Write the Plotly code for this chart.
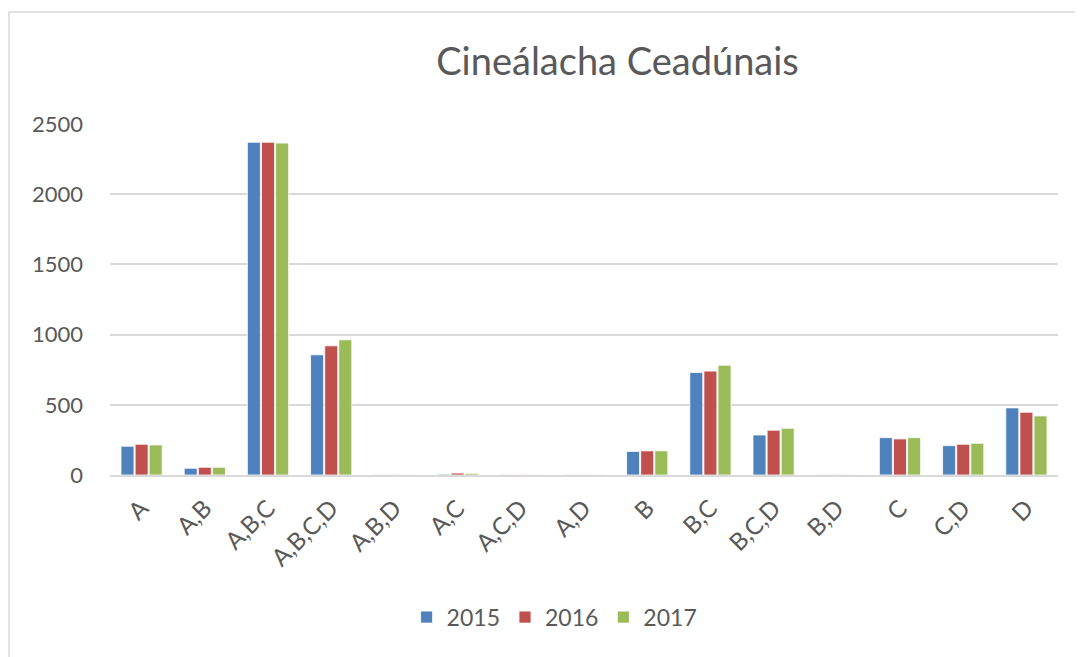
import plotly.graph_objects as go

categories = ["A", "A,B", "A,B,C", "A,B,C,D", "A,B,D", "A,C", "A,C,D", "A,D",
              "B", "B,C", "B,C,D", "B,D", "C", "C,D", "D"]
v2015 = [205, 48, 2370, 856, 2, 6, 2, 2, 168, 730, 285, 2, 266, 209, 478]
v2016 = [219, 55, 2370, 920, 2, 14, 2, 2, 172, 740, 319, 2, 257, 219, 447]
v2017 = [214, 55, 2364, 963, 2, 12, 2, 2, 172, 782, 333, 2, 266, 226, 421]

font = "Lato, Liberation Sans, sans-serif"
grey = "#595959"

fig = go.Figure()
for name, vals, col in [("2015", v2015, "#4F81BD"),
                        ("2016", v2016, "#C0504D"),
                        ("2017", v2017, "#9BBB59")]:
    fig.add_trace(go.Bar(x=categories, y=vals, name=name,
                         marker=dict(color=col, line=dict(color="white", width=0.8))))

# page body has an 8px margin, so the figure is sized a bit smaller
fig.update_layout(
    width=1075, height=649,
    margin=dict(l=102, r=25, t=116, b=182),
    paper_bgcolor="white", plot_bgcolor="white",
    barmode="group", bargap=0.33, bargroupgap=0.08,
    title=dict(text="Cineálacha Ceadúnais", x=0.567, xref="container", xanchor="center",
               y=1 - 54 / 649, yref="container", yanchor="middle",
               font=dict(family=font, size=38, color=grey)),
    font=dict(family=font, color=grey),
    legend=dict(orientation="h", x=0.469, xanchor="center", y=-0.405, yanchor="middle",
                font=dict(size=23, color=grey), itemwidth=30),
    showlegend=True,
)
fig.update_yaxes(range=[0, 2500], dtick=500, showgrid=True, gridcolor="#D9D9D9", gridwidth=1.5,
                 zeroline=False, showline=False, tickfont=dict(size=22, color=grey),
                 ticks="", ticklabelstandoff=26)
fig.update_xaxes(tickangle=-45, tickfont=dict(size=24, color=grey), showline=True,
                 linecolor="#D9D9D9", linewidth=1.5, ticks="", ticklabelstandoff=8)

# outer chart frame
fig.add_shape(type="rect", xref="paper", yref="paper",
              x0=-0.1065, x1=1.06, y0=-0.53, y1=1.319,
              line=dict(color="#D9D9D9", width=1.5), layer="below")

fig.write_html("out.html")
